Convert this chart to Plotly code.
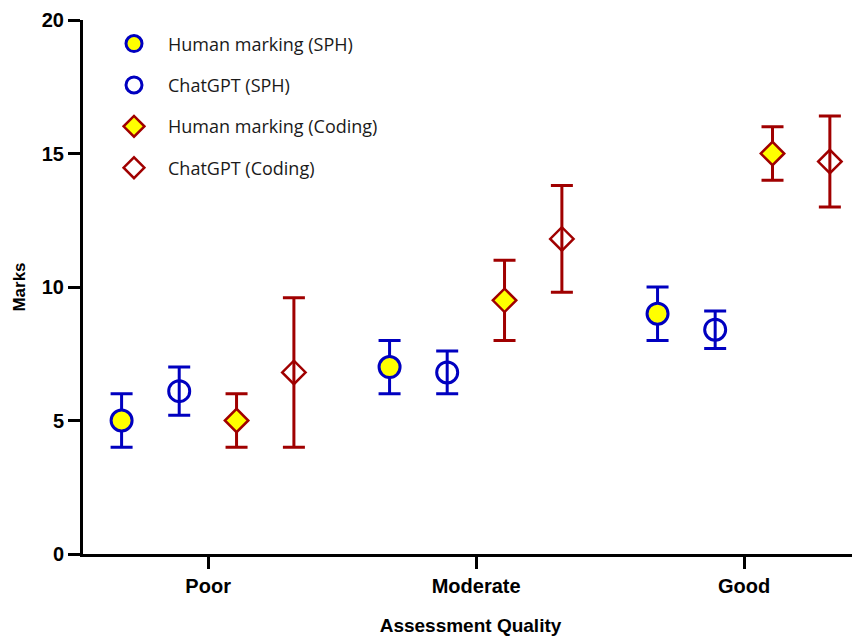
import plotly.graph_objects as go

categories = ["Poor", "Moderate", "Good"]
cat_pos = [0, 1, 2]

series_names = ["Human marking (SPH)", "ChatGPT (SPH)", "Human marking (Coding)", "ChatGPT (Coding)"]
offsets = [-0.323, -0.108, 0.106, 0.32]

human_sph = [5.0, 7.0, 9.0]
human_sph_lo = [4.0, 6.0, 8.0]
human_sph_hi = [6.0, 8.0, 10.0]

gpt_sph = [6.1, 6.8, 8.4]
gpt_sph_lo = [5.2, 6.0, 7.7]
gpt_sph_hi = [7.0, 7.6, 9.1]

human_cod = [5.0, 9.5, 15.0]
human_cod_lo = [4.0, 8.0, 14.0]
human_cod_hi = [6.0, 11.0, 16.0]

gpt_cod = [6.8, 11.8, 14.7]
gpt_cod_lo = [4.0, 9.8, 13.0]
gpt_cod_hi = [9.6, 13.8, 16.4]

y_ticks = [0, 5, 10, 15, 20]

BLUE = "#0000C0"
RED = "#A00000"
YELLOW = "#FFFF00"

values = [
    (human_sph, human_sph_lo, human_sph_hi),
    (gpt_sph, gpt_sph_lo, gpt_sph_hi),
    (human_cod, human_cod_lo, human_cod_hi),
    (gpt_cod, gpt_cod_lo, gpt_cod_hi),
]
styles = [
    dict(symbol="circle", color=YELLOW, line=dict(color=BLUE, width=3), size=21),
    dict(symbol="circle-open", color=BLUE, line=dict(color=BLUE, width=3), size=21),
    dict(symbol="diamond", color=YELLOW, line=dict(color=RED, width=2.5), size=18),
    dict(symbol="diamond-open", color=RED, line=dict(color=RED, width=2.5), size=18),
]
bar_colors = [BLUE, BLUE, RED, RED]

NB = "\u00a0" * 3

fig = go.Figure()
for i, (name, (m, lo, hi)) in enumerate(zip(series_names, values)):
    xs = [c + offsets[i] for c in cat_pos]
    fig.add_trace(go.Scatter(
        x=xs, y=m, mode="markers", name=NB + name,
        legendgroup=name,
        marker=styles[i],
        error_y=dict(
            type="data", symmetric=False,
            array=[h - v for h, v in zip(hi, m)],
            arrayminus=[v - l for v, l in zip(m, lo)],
            color=bar_colors[i], thickness=3, width=11,
        ),
    ))

# The page body has an 8px default margin, so the figure is sized to fit the
# 860x636 window once that offset is included.
fig.update_layout(
    width=852, height=628,
    margin=dict(l=75, r=2, t=12, b=82),
    plot_bgcolor="white", paper_bgcolor="white",
    showlegend=True,
    legend=dict(
        x=0.04, y=0.99, xanchor="left", yanchor="top",
        font=dict(family="Open Sans", size=18, color="#1a1a1a"),
        tracegroupgap=15, bgcolor="rgba(0,0,0,0)",
        itemsizing="trace",
    ),
    xaxis=dict(
        range=[-0.467, 2.425],
        tickmode="array", tickvals=cat_pos, ticktext=categories,
        showline=True, linecolor="black", linewidth=3,
        ticks="outside", ticklen=12, tickwidth=3, tickcolor="black",
        showgrid=False, zeroline=False, automargin=False,
        tickfont=dict(family="Liberation Sans", size=20, color="black", weight="bold"),
        title=dict(text="Assessment Quality",
                   font=dict(family="Liberation Sans", size=19, color="black", weight="bold"),
                   standoff=25),
    ),
    yaxis=dict(
        range=[0, 20],
        tickmode="array", tickvals=y_ticks,
        showline=True, linecolor="black", linewidth=3,
        ticks="outside", ticklen=12, tickwidth=3, tickcolor="black",
        showgrid=False, zeroline=False, automargin=False,
        tickfont=dict(family="Liberation Sans", size=20, color="black", weight="bold"),
        title=dict(text="Marks",
                   font=dict(family="Liberation Sans", size=17, color="black", weight="bold"),
                   standoff=12),
    ),
)

fig.write_html("out.html")
